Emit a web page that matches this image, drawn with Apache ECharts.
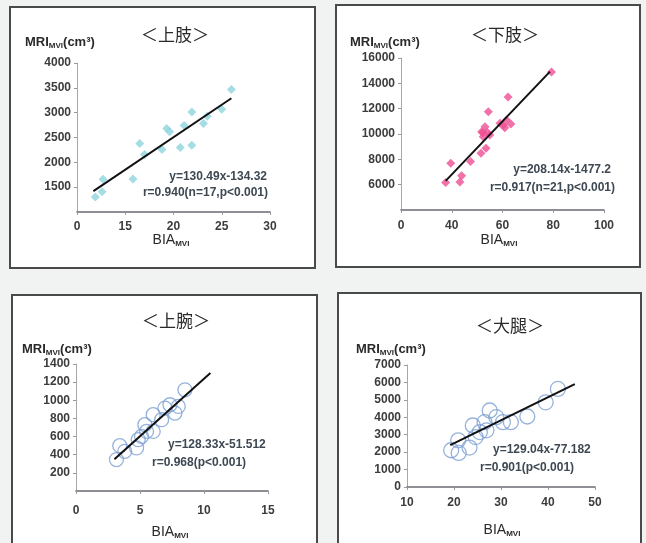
<!DOCTYPE html>
<html>
<head>
<meta charset="utf-8">
<script src="https://cdn.jsdelivr.net/npm/echarts@6/dist/echarts.min.js"></script>
<style>
  html, body { margin: 0; padding: 0; background: #f1f3f3; }
  #main { width: 646px; height: 543px; }
</style>
</head>
<body>
<div id="main"></div>
<script>
// <上肢> upper limb
var armPoints = [
    [11.9, 1300], [12.6, 1410], [12.7, 1660], [15.8, 1665], [16.5, 2380],
    [17.0, 2160], [18.8, 2260], [19.3, 2680], [19.6, 2615], [20.7, 2300],
    [21.1, 2740], [21.9, 3015], [21.9, 2345], [23.1, 2780], [23.5, 2930],
    [25.0, 3070], [26.0, 3465]
];
var armFit = [[11.7, 1420], [26.0, 3290]];
var armXTicks = ['0', '15', '20', '25', '30'];

// <下肢> lower limb
var legPoints = [
    [37.6, 6180], [39.6, 7700], [43.2, 6210], [43.9, 6700], [47.4, 7830],
    [51.5, 8490], [53.5, 8880], [51.8, 10180], [53.1, 10570], [54.0, 10130],
    [55.0, 9920], [54.4, 11750], [52.4, 9790], [52.2, 10100], [59.0, 10840],
    [60.3, 10700], [60.9, 10490], [61.6, 11100], [63.3, 10780], [62.2, 12930],
    [79.3, 14890]
];
var legFit = [[37.6, 6300], [78.7, 14920]];
var legXTicks = ['0', '40', '60', '80', '100'];

// <上腕> upper arm
var upperArmPoints = [
    [3.16, 346], [3.42, 500], [3.81, 437], [4.73, 475], [4.86, 566],
    [5.12, 602], [5.38, 731], [5.51, 657], [6.03, 657], [6.03, 841],
    [6.69, 786], [6.95, 914], [7.34, 951], [7.73, 859], [7.99, 932],
    [8.51, 1115]
];
var upperArmFit = [[3.0, 350], [10.5, 1300]];

// <大腿> thigh
var thighPoints = [
    [19.4, 2110], [20.9, 2680], [21.0, 1955], [23.3, 2260], [24.0, 3530],
    [24.6, 2865], [25.5, 3150], [26.5, 3720], [26.9, 3250], [27.6, 4390],
    [29.0, 4005], [30.4, 3720], [32.1, 3720], [35.6, 4045], [39.5, 4860],
    [42.1, 5625]
];
var thighFit = [[19.2, 2400], [45.7, 5900]];

var titles = ['＜上肢＞', '＜下肢＞', '＜上腕＞', '＜大腿＞'];
var equations = [
    ['y=130.49x-134.32', 'r=0.940(n=17,p<0.001)'],
    ['y=208.14x-1477.2', 'r=0.917(n=21,p<0.001)'],
    ['y=128.33x-51.512', 'r=0.968(p<0.001)'],
    ['y=129.04x-77.182', 'r=0.901(p<0.001)']
];

var chart = echarts.init(document.getElementById('main'));
var font = '"Liberation Sans", Arial, sans-serif';
var cjk = '"Noto Sans CJK JP", sans-serif';
var labelColor = '#3c3c3c';

const grids = [
    { left: 77, top: 63, width: 193, height: 149 },
    { left: 401, top: 58, width: 203, height: 152 },
    { left: 76, top: 364, width: 192, height: 127 },
    { left: 407, top: 365, width: 188, height: 122 }
];

const xAxisCfg = [
    { min: 10, max: 30, interval: 5, ticks: armXTicks },
    { min: 20, max: 100, interval: 20, ticks: legXTicks },
    { min: 0, max: 15, interval: 5 },
    { min: 10, max: 50, interval: 10 }
];
const yAxisCfg = [
    { min: 1000, max: 4000, interval: 500, hideMin: true },
    { min: 4000, max: 16000, interval: 2000, hideMin: true },
    { min: 0, max: 1400, interval: 200, hideMin: true },
    { min: 0, max: 7000, interval: 1000, hideMin: false }
];
const xLabelMargin = [9, 10, 14, 10];

var xAxes = xAxisCfg.map(function (c, i) {
    return {
        type: 'value', gridIndex: i, min: c.min, max: c.max, interval: c.interval,
        axisLine: { lineStyle: { color: '#6a6a72', width: 1.6 } },
        axisTick: { show: true, length: 3, inside: false, lineStyle: { color: '#999' } },
        splitLine: { show: false },
        axisLabel: {
            color: labelColor, fontFamily: font, fontWeight: 'bold', fontSize: 12,
            margin: xLabelMargin[i],
            formatter: function (v) {
                return c.ticks ? c.ticks[Math.round((v - c.min) / c.interval)] : String(v);
            }
        }
    };
});

var yAxes = yAxisCfg.map(function (c, i) {
    return {
        type: 'value', gridIndex: i, min: c.min, max: c.max, interval: c.interval,
        axisLine: { show: true, lineStyle: { color: '#a8a8a8', width: 1 } },
        axisTick: { show: true, length: 3, lineStyle: { color: '#999' } },
        splitLine: { show: false },
        axisLabel: {
            color: labelColor, fontFamily: font, fontWeight: 'bold', fontSize: 12, margin: 6,
            showMinLabel: !c.hideMin,
            formatter: function (v) {
                return (c.hideMin && v === c.min) ? '' : String(v);
            }
        }
    };
});

var scatterStyles = [
    { symbol: 'diamond', symbolSize: 9, itemStyle: { color: '#8fd4df' } },
    { symbol: 'diamond', symbolSize: 9, itemStyle: { color: '#ee4f93' } },
    { symbol: 'circle', symbolSize: 14, itemStyle: { color: 'rgba(255,255,255,0)', borderColor: '#7c9fd2', borderWidth: 1.3 } },
    { symbol: 'circle', symbolSize: 15, itemStyle: { color: 'rgba(255,255,255,0)', borderColor: '#7c9fd2', borderWidth: 1.3 } }
];
var pointSets = [armPoints, legPoints, upperArmPoints, thighPoints];
var fitSets = [armFit, legFit, upperArmFit, thighFit];

var series = [];
pointSets.forEach(function (pts, i) {
    series.push(Object.assign({
        type: 'scatter', xAxisIndex: i, yAxisIndex: i, data: pts, z: 2
    }, scatterStyles[i]));
    series.push({
        type: 'line', xAxisIndex: i, yAxisIndex: i, data: fitSets[i], z: 3,
        symbol: 'none', lineStyle: { color: '#111', width: 2 }
    });
});

// panel frames, titles and axis names
var panels = [
    { x: 10, y: 7, w: 305, h: 261 },
    { x: 336, y: 5, w: 304, h: 262 },
    { x: 12, y: 295, w: 305, h: 260 },
    { x: 338, y: 293, w: 303, h: 262 }
];
var titlePos = [[175, 35], [505, 35], [176, 321], [510, 326]];
var yNamePos = [[25, 42], [350, 42], [22, 349], [356, 349]];
var xNamePos = [[171, 240], [499, 240], [170, 532], [502, 530]];
var eqPos = [
    [[267, 177, 'right'], [268, 193, 'right']],
    [[611, 170, 'right'], [615, 188, 'right']],
    [[168, 445, 'left'], [152, 463, 'left']],
    [[493, 450, 'left'], [480, 468, 'left']]
];

var graphics = [];
panels.forEach(function (p, i) {
    graphics.push({
        type: 'rect', z: -10, shape: { x: p.x, y: p.y, width: p.w, height: p.h },
        style: { fill: '#fff', stroke: '#4a4a4a', lineWidth: 2 }
    });
    graphics.push({
        type: 'text', x: titlePos[i][0], y: titlePos[i][1],
        style: { text: titles[i], fill: '#2a2a2a', font: '17px ' + cjk, align: 'center', verticalAlign: 'middle' }
    });
    graphics.push({
        type: 'text', x: yNamePos[i][0], y: yNamePos[i][1],
        style: {
            text: '{a|MRI}{b|MVI}{a|(cm³)}', verticalAlign: 'middle',
            rich: {
                a: { fontFamily: font, fontWeight: 'bold', fontSize: 13, fill: '#2a2a2a' },
                b: { fontFamily: font, fontWeight: 'bold', fontSize: 8, fill: '#2a2a2a', padding: [7, 0, 0, 0] }
            }
        }
    });
    graphics.push({
        type: 'text', x: xNamePos[i][0], y: xNamePos[i][1],
        style: {
            text: '{a|BIA}{b|MVI}', align: 'center', verticalAlign: 'middle',
            rich: {
                a: { fontFamily: font, fontSize: 14, fill: '#2a2a2a' },
                b: { fontFamily: font, fontWeight: 'bold', fontSize: 8, fill: '#2a2a2a', padding: [7, 0, 0, 0] }
            }
        }
    });
    equations[i].forEach(function (t, k) {
        var e = eqPos[i][k];
        graphics.push({
            type: 'text', x: e[0], y: e[1], z: 10,
            style: {
                text: t, fill: '#3d4853', font: 'bold 12px ' + font,
                align: e[2], verticalAlign: 'middle'
            }
        });
    });
});

var option = {
    backgroundColor: '#f1f3f3',
    animation: false,
    grid: grids,
    xAxis: xAxes,
    yAxis: yAxes,
    series: series,
    graphic: graphics
};

option && chart.setOption(option);
</script>
</body>
</html>
